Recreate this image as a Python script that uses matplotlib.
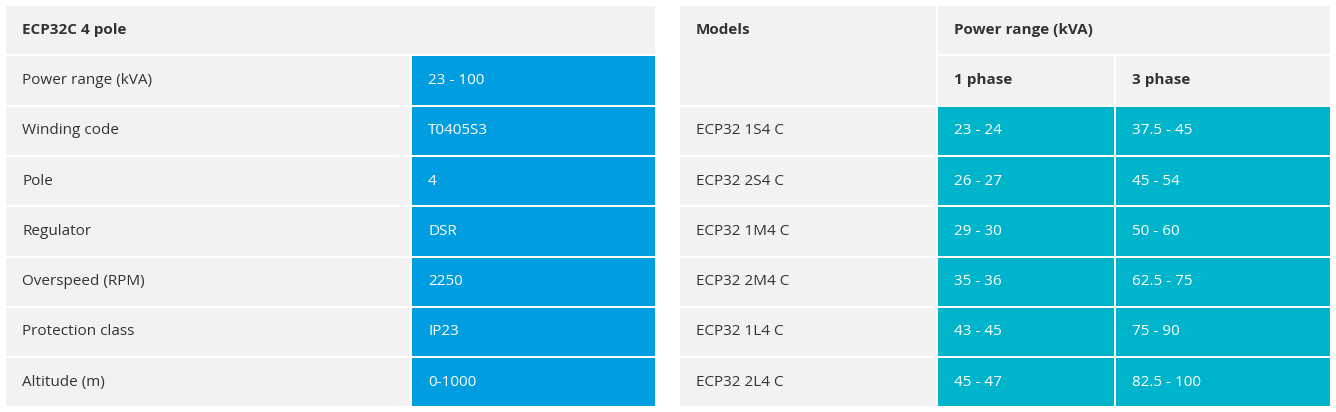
import matplotlib.pyplot as plt
from matplotlib.patches import Rectangle

left_title = "ECP32C 4 pole"
left_labels = ["Power range (kVA)", "Winding code", "Pole", "Regulator",
               "Overspeed (RPM)", "Protection class", "Altitude (m)"]
left_values = ["23 - 100", "T0405S3", "4", "DSR", "2250", "IP23", "0-1000"]

models = ["ECP32 1S4 C", "ECP32 2S4 C", "ECP32 1M4 C", "ECP32 2M4 C",
          "ECP32 1L4 C", "ECP32 2L4 C"]
one_phase = ["23 - 24", "26 - 27", "29 - 30", "35 - 36", "43 - 45", "45 - 47"]
three_phase = ["37.5 - 45", "45 - 54", "50 - 60", "62.5 - 75", "75 - 90", "82.5 - 100"]

GRAY = "#f2f2f2"
BLUE = "#009de0"
TEAL = "#00b4cc"
TXT = "#333333"

plt.rcParams['font.family'] = ['Open Sans', 'DejaVu Sans']
fig = plt.figure(figsize=(13.36, 4.12), dpi=100)
ax = fig.add_axes([0, 0, 1, 1])
ax.set_xlim(0, 1336)
ax.set_ylim(412, 0)
ax.axis('off')

top, rh = 6, 50.3


def cell(x0, x1, r, color, text, tcolor=TXT, bold=False):
    y0 = top + r * rh
    ax.add_patch(Rectangle((x0, y0), x1 - x0, rh - 2, color=color, lw=0))
    if text:
        ax.text(x0 + 16, y0 + rh / 2 - 1, text, color=tcolor, fontsize=11,
                va='center', ha='left', fontweight='bold' if bold else 'normal')


# left table
cell(6, 655, 0, GRAY, left_title, bold=True)
for i, (lab, val) in enumerate(zip(left_labels, left_values)):
    cell(6, 410, i + 1, GRAY, lab)
    cell(412, 655, i + 1, BLUE, val, tcolor="white")

# right table
ax.add_patch(Rectangle((680, top), 256, 2 * rh - 2, color=GRAY, lw=0))
ax.text(696, top + rh / 2 - 1, "Models", color=TXT, fontsize=11, va='center',
        fontweight='bold')
cell(938, 1330, 0, GRAY, "Power range (kVA)", bold=True)
cell(938, 1114, 1, GRAY, "1 phase", bold=True)
cell(1116, 1330, 1, GRAY, "3 phase", bold=True)
for i, (m, a, b) in enumerate(zip(models, one_phase, three_phase)):
    cell(680, 936, i + 2, GRAY, m)
    cell(938, 1114, i + 2, TEAL, a, tcolor="white")
    cell(1116, 1330, i + 2, TEAL, b, tcolor="white")

fig.savefig("out.png", dpi=100, facecolor="white")
